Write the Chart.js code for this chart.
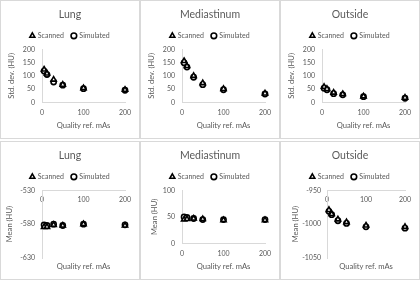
<!DOCTYPE html>
<html>
<head>
<meta charset="utf-8">
<script src="https://cdn.jsdelivr.net/npm/chart.js@4.4.1/dist/chart.umd.min.js"></script>
<style>
  html, body { margin: 0; padding: 0; background: #fff; }
  body { width: 420px; height: 281px; position: relative; overflow: hidden; }
  .panel { position: absolute; width: 138px; height: 137px; border: 1px solid #d9d9d9; background: #fff; }
  .panel canvas { display: block; }
</style>
</head>
<body>
<div class="panel" style="left:0;top:0"><canvas id="sdLung" width="138" height="137"></canvas></div>
<div class="panel" style="left:140px;top:0"><canvas id="sdMed" width="138" height="137"></canvas></div>
<div class="panel" style="left:280px;top:0"><canvas id="sdOut" width="138" height="137"></canvas></div>
<div class="panel" style="left:0;top:141px"><canvas id="meanLung" width="138" height="137"></canvas></div>
<div class="panel" style="left:140px;top:141px"><canvas id="meanMed" width="138" height="137"></canvas></div>
<div class="panel" style="left:280px;top:141px"><canvas id="meanOut" width="138" height="137"></canvas></div>
<script>
// quality reference mAs (x values, shared by all panels)
const mAs = [5, 12, 28, 50, 100, 200];
const xTicks = [0, 100, 200];

// noise (std. dev.) in HU
const sdLungScanned = [124, 109, 86, 67, 54, 48];
const sdLungSimulated = [118, 105, 77, 65, 52, 46];
const sdMedScanned = [156, 137, 100, 73, 51, 34];
const sdMedSimulated = [149, 133, 95, 67, 48, 32];
const sdOutScanned = [59, 51, 37, 32, 23, 18];
const sdOutSimulated = [54, 48, 33, 29, 22, 16];
const sdTicks = [0, 50, 100, 150, 200];

// mean HU
const meanLungScanned = [-584, -584, -581, -582, -580, -582];
const meanLungSimulated = [-581, -582, -580, -582, -580, -581];
const lungTicks = [-630, -580, -530];
const meanMedScanned = [45, 46, 47, 46, 44, 44];
const meanMedSimulated = [50, 49, 47, 45, 45, 45];
const medTicks = [0, 50, 100];
const meanOutScanned = [-979, -985, -993, -997, -1002, -1004];
const meanOutSimulated = [-981, -986, -995, -999, -1004, -1006];
const outTicks = [-1050, -1000, -950];

const TEXT = '#595959';
const LINE = '#d9d9d9';
const FONT = 'Lato, "Open Sans", sans-serif';
const RIGHT_GAP = 14;

function pts(ys) {
  return mAs.map((x, i) => ({ x: x, y: ys[i] }));
}

// yAxisW: room left of the plot, yTitleX: centre of the rotated y title
function makePanel(id, title, yTitle, scanned, simulated, yTicks, xAtTop, yAxisW, yTitleX, yTickPad) {
  const yMin = yTicks[0];
  const yMax = yTicks[yTicks.length - 1];
  const axisTitleFont = { family: FONT, size: 7.6 };
  const tickFont = { family: FONT, size: 7 };
  const xTitle = { display: true, text: 'Quality ref. mAs', color: TEXT, font: axisTitleFont, padding: { top: 0, bottom: 7.4 } };
  const scales = {
    x: {
      type: 'linear',
      min: xTicks[0],
      max: xTicks[xTicks.length - 1],
      position: xAtTop ? { y: yMax } : 'bottom',
      afterBuildTicks: axis => { axis.ticks = xTicks.map(v => ({ value: v })); },
      afterFit: axis => { axis.height = xAtTop ? 0 : 35.5; axis.paddingRight = RIGHT_GAP; },
      ticks: { color: TEXT, font: tickFont, padding: xAtTop ? 5 : 6, maxRotation: 0, callback: v => String(v) },
      grid: { display: false, drawTicks: false },
      border: { display: true, color: LINE, width: 1 },
      title: xAtTop ? { display: false } : xTitle
    },
    y: {
      type: 'linear',
      min: yMin,
      max: yMax,
      afterBuildTicks: axis => { axis.ticks = yTicks.map(v => ({ value: v })); },
      afterFit: axis => { axis.width = yAxisW; axis.paddingRight = RIGHT_GAP; },
      ticks: { color: TEXT, font: tickFont, padding: yTickPad, callback: v => String(v) },
      grid: { display: false, drawTicks: false },
      border: { display: true, color: LINE, width: 1 },
      title: { display: true, text: yTitle, color: TEXT, font: axisTitleFont, padding: { top: yTitleX - 4.6, bottom: 0 } }
    }
  };
  if (xAtTop) {
    // extra bottom axis that only carries the title
    scales.x2 = {
      type: 'linear',
      position: 'bottom',
      display: true,
      afterFit: axis => { axis.height = 21; },
      ticks: { display: false },
      grid: { display: false, drawTicks: false },
      border: { display: false },
      title: xTitle
    };
  }
  new Chart(document.getElementById(id), {
    type: 'scatter',
    data: {
      datasets: [{
        label: 'Scanned',
        data: pts(scanned),
        pointStyle: 'triangle',
        pointRadius: 3,
        pointBorderWidth: 1.6,
        borderWidth: 1.5,
        borderColor: '#000',
        backgroundColor: '#fff',
        clip: false
      }, {
        label: 'Simulated',
        data: pts(simulated),
        pointStyle: 'circle',
        pointRadius: 2.6,
        pointBorderWidth: 1.6,
        borderWidth: 1.5,
        borderColor: '#000',
        backgroundColor: '#fff',
        clip: false
      }]
    },
    options: {
      responsive: false,
      animation: false,
      layout: { padding: { left: 0, right: 0, top: 2, bottom: 0 } },
      plugins: {
        title: { display: true, text: title, color: TEXT, font: { family: FONT, size: 10.5, weight: 'normal' }, padding: { top: 5.7, bottom: 3 } },
        legend: {
          position: 'top',
          labels: { usePointStyle: true, boxWidth: 4, boxHeight: 4, padding: 8, color: TEXT, font: { family: FONT, size: 7 } }
        },
        tooltip: { enabled: false }
      },
      scales: scales
    }
  });
}

makePanel('sdLung', 'Lung', 'Std. dev. (HU)', sdLungScanned, sdLungSimulated, sdTicks, false, 41, 11, 7);
makePanel('sdMed', 'Mediastinum', 'Std. dev. (HU)', sdMedScanned, sdMedSimulated, sdTicks, false, 41, 11, 7);
makePanel('sdOut', 'Outside', 'Std. dev. (HU)', sdOutScanned, sdOutSimulated, sdTicks, false, 41, 11, 7);
makePanel('meanLung', 'Lung', 'Mean (HU)', meanLungScanned, meanLungSimulated, lungTicks, true, 41, 9, 7);
makePanel('meanMed', 'Mediastinum', 'Mean (HU)', meanMedScanned, meanMedSimulated, medTicks, false, 41, 14, 7);
makePanel('meanOut', 'Outside', 'Mean (HU)', meanOutScanned, meanOutSimulated, outTicks, true, 46, 15, 6);
</script>
</body>
</html>
